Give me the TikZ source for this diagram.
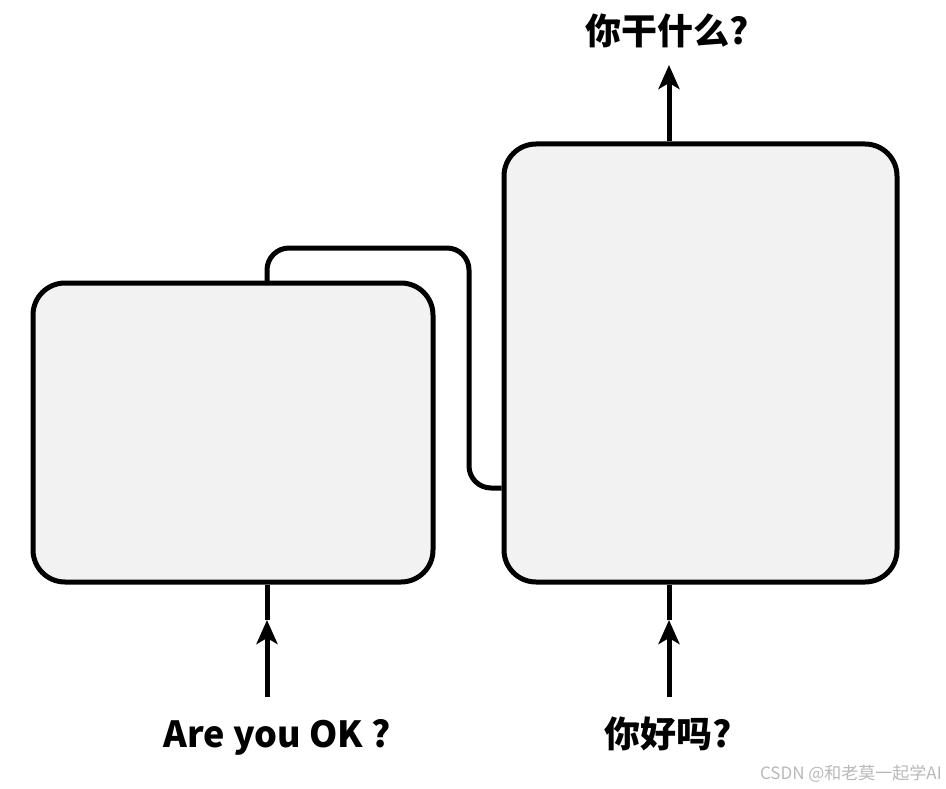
\documentclass[tikz,border=0pt]{standalone}
\usepackage{fontspec}
\setmainfont{Noto Sans CJK SC}
\usetikzlibrary{arrows.meta}
\definecolor{boxfill}{HTML}{F2F2F2}
\definecolor{wmgray}{HTML}{B8B8B8}
\tikzset{
  cell/.style={draw=black, line width=5pt, fill=boxfill, rounded corners=32pt, inner sep=0pt},
  wire/.style={draw=black, line width=5pt},
  arr/.style={wire, -{Stealth[length=24pt,width=21pt,inset=6pt]}},
  lbl/.style={font=\bfseries\fontsize{36}{40}\selectfont, inner sep=0pt, anchor=base}
}
\begin{document}
\begin{tikzpicture}[x=1pt,y=-1pt]
\useasboundingbox (0,0) rectangle (946,789);
\node[cell, minimum width=400pt, minimum height=299pt] (boxL) at (233,432.5) {};
\node[cell, minimum width=393pt, minimum height=438pt] (boxR) at (700.5,363) {};
% labels
\node[lbl] (inL) at (277,747) {Are you OK ?};
\node[lbl] (inR) at (668,747) {你好吗?};
\node[lbl] (outR) at (667,45) {你干什么?};
\node[font=\fontsize{17}{19}\selectfont, text=wmgray, anchor=base east, inner sep=0pt] (wm) at (942,779) {CSDN @和老莫一起学AI};
% input arrows
\coordinate (aL0) at (267,697);
\coordinate (aL1) at (267,620);
\coordinate (aR0) at (669,697);
\coordinate (aR1) at (669,620);
\draw[arr] (aL0) -- (aL1);
\draw[wire] (aL1) -- (aL1 |- boxL.south);
\draw[arr] (aR0) -- (aR1);
\draw[wire] (aR1) -- (aR1 |- boxR.south);
% output arrow
\coordinate (aT) at (669,65);
\draw[arr] (aT |- boxR.north) -- (aT);
% connector
\coordinate (c0) at (267,285);
\coordinate (c1) at (267,248);
\coordinate (c2) at (469,248);
\coordinate (c3) at (469,488);
\coordinate (c4) at (boxR.west |- c3);
\draw[wire, rounded corners=22pt] (c0) -- (c1) -- (c2) -- (c3) -- (c4);
\end{tikzpicture}
\end{document}
